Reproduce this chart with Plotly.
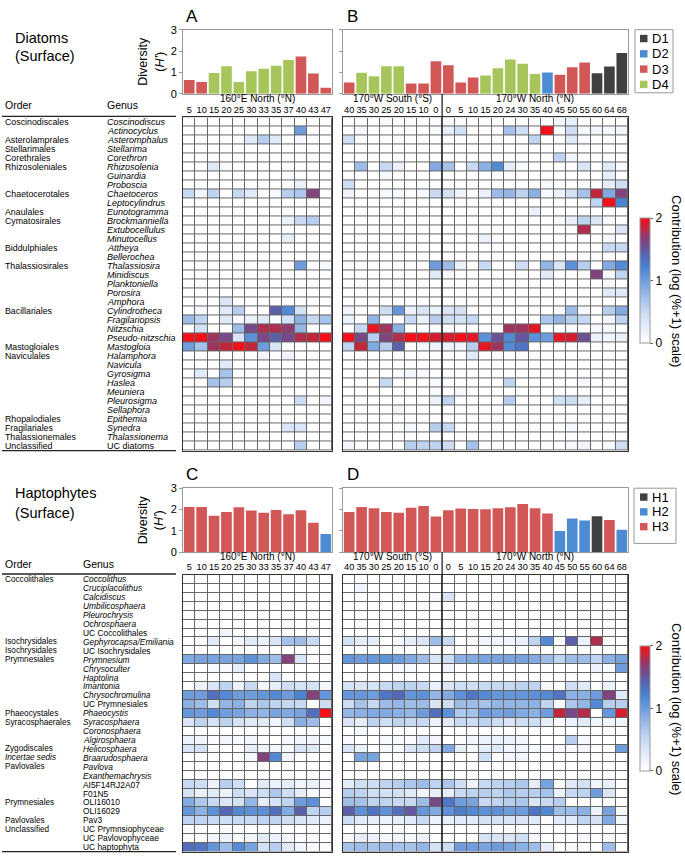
import plotly.graph_objects as go

W, H = 685, 862
FONT = "Liberation Sans, Arial, sans-serif"

# ---------------- data ----------------
stations_160E = ["5", "10", "15", "20", "25", "30", "33", "35", "37", "40", "43", "47"]
stations_170W = ["40", "35", "30", "25", "20", "15", "10", "0",
                 "0", "5", "10", "15", "20", "24", "30", "35", "40", "45", "50", "55", "60", "64", "68"]

diatom_div_A = [0.65, 0.55, 0.97, 1.29, 0.55, 1.05, 1.17, 1.31, 1.58, 1.74, 0.95, 0.28]
diatom_grp_A = ["D3", "D3", "D4", "D4", "D4", "D4", "D4", "D4", "D4", "D3", "D3", "D3"]
diatom_div_B = [0.53, 0.98, 0.82, 1.29, 1.29, 0.48, 0.48, 1.52, 1.34, 0.53, 0.76, 0.86,
                1.2, 1.6, 1.4, 0.93, 1.0, 0.89, 1.24, 1.46, 0.96, 1.28, 1.91]
diatom_grp_B = ["D3", "D4", "D4", "D4", "D4", "D3", "D3", "D3", "D3", "D3", "D3", "D4",
                "D4", "D4", "D4", "D4", "D2", "D3", "D3", "D3", "D1", "D1", "D1"]

hapto_div_C = [2.12, 2.12, 1.71, 1.89, 2.11, 1.95, 1.85, 1.98, 1.78, 1.97, 1.38, 0.85]
hapto_grp_C = ["H3"] * 11 + ["H2"]
hapto_div_D = [1.89, 2.12, 2.06, 1.89, 1.85, 2.08, 2.17, 1.68, 1.97, 2.05, 2.03, 2.02,
               2.06, 2.11, 2.26, 2.06, 1.82, 1.0, 1.58, 1.49, 1.69, 1.51, 1.05]
hapto_grp_D = ["H3"] * 17 + ["H2", "H2", "H2", "H1", "H3", "H2"]

diatom_orders = ["Coscinodiscales", "", "Asterolamprales", "Stellarimales", "Corethrales",
                 "Rhizosoleniales", "", "", "Chaetocerotales", "", "Anaulales", "Cymatosirales",
                 "", "", "Biddulphiales", "", "Thalassiosirales", "", "", "", "", "Bacillariales",
                 "", "", "", "Mastogloiales", "Naviculales", "", "", "", "", "", "",
                 "Rhopalodiales", "Fragilariales", "Thalassionemales", "Unclassified"]
diatom_genera = ["Coscinodiscus", "Actinocyclus", "Asteromphalus", "Stellarima", "Corethron",
                 "Rhizosolenia", "Guinardia", "Proboscia", "Chaetoceros", "Leptocylindrus",
                 "Eunotogramma", "Brockmanniella", "Extubocellulus", "Minutocellus", "Attheya",
                 "Bellerochea", "Thalassiosira", "Minidiscus", "Planktoniella", "Porosira",
                 "Amphora", "Cylindrotheca", "Fragilariopsis", "Nitzschia", "Pseudo-nitzschia",
                 "Mastogloia", "Halamphora", "Navicula", "Gyrosigma", "Haslea", "Meuniera",
                 "Pleurosigma", "Sellaphora", "Epithemia", "Synedra", "Thalassionema", "UC diatoms"]
diatom_italic = [True] * 36 + [False]

hapto_orders = ["Coccolithales", "", "", "", "", "", "", "Isochrysidales", "Isochrysidales",
                "Prymnesiales", "", "", "", "", "", "Phaeocystales", "Syracosphaerales", "", "",
                "Zygodiscales", "<i>Incertae sedis</i>", "Pavlovales", "", "", "", "Prymnesiales",
                "", "Pavlovales", "Unclassified", "", ""]
hapto_genera = ["Coccolithus", "Cruciplacolithus", "Calcidiscus", "Umbilicosphaera", "Pleurochrysis",
                "Ochrosphaera", "UC Coccolithales", "Gephyrocapsa/Emiliania", "UC Isochrysidales",
                "Prymnesium", "Chrysoculter", "Haptolina", "Imantonia", "Chrysochromulina",
                "UC Prymnesiales", "Phaeocystis", "Syracosphaera", "Coronosphaera", "Algirosphaera",
                "Helicosphaera", "Braarudosphaera", "Pavlova", "Exanthemachrysis", "AI5F14RJ2A07",
                "F01N5", "OLI16010", "OLI16029", "Pav3", "UC Prymnsiophyceae", "UC Pavlovophyceae",
                "UC haptophyta"]
hapto_italic = [True] * 6 + [False, True, False] + [True] * 5 + [False] + [True] * 8 + [False] * 8

heat_A = [
    [0, 0, 0, 0, 0, 0, 0, 0, 0, 0, 0, 0],
    [0, 0, 0, 0, 0, 0, 0, 0, 0, 1.0, 0, 0],
    [0, 0, 0, 0, 0, 0.3, 0.6, 0.3, 0, 0.1, 0, 0],
    [0, 0, 0, 0, 0, 0, 0, 0, 0, 0, 0, 0],
    [0, 0, 0, 0, 0, 0, 0, 0, 0, 0, 0.05, 0],
    [0, 0, 0.3, 0.1, 0, 0, 0, 0, 0, 0, 0, 0],
    [0, 0, 0, 0, 0, 0, 0, 0, 0.1, 0, 0, 0],
    [0, 0, 0, 0, 0, 0, 0, 0, 0, 0.2, 0, 0],
    [0.5, 0.15, 0.55, 0, 0.5, 0.3, 0, 0.1, 0.6, 0.65, 1.65, 0],
    [0, 0, 0, 0, 0, 0, 0, 0, 0, 0, 0, 0],
    [0, 0, 0, 0, 0, 0, 0, 0, 0.1, 0, 0, 0],
    [0, 0, 0, 0, 0, 0, 0, 0, 0.2, 0.5, 0.6, 0],
    [0, 0, 0, 0, 0, 0, 0, 0, 0, 0, 0, 0],
    [0, 0, 0, 0, 0, 0, 0, 0, 0.25, 0, 0, 0],
    [0, 0, 0, 0, 0, 0, 0, 0, 0, 0, 0, 0],
    [0, 0, 0, 0, 0, 0, 0, 0, 0, 0, 0, 0],
    [0, 0, 0, 0, 0, 0, 0, 0, 0, 1.0, 0, 0.1],
    [0, 0, 0, 0, 0, 0, 0, 0, 0, 0, 0, 0],
    [0, 0, 0, 0, 0, 0, 0, 0, 0, 0, 0, 0],
    [0, 0, 0, 0, 0, 0, 0, 0, 0, 0, 0, 0],
    [0, 0, 0, 0.35, 0, 0, 0, 0, 0, 0, 0, 0],
    [0, 0.1, 0, 0.3, 0.6, 0, 0, 1.45, 1.15, 0.4, 0, 0],
    [0.75, 0.55, 0, 0.3, 0.1, 0.2, 0.3, 0.1, 0.4, 0.85, 0.5, 0.7],
    [0, 0.4, 0, 0, 0.75, 1.6, 1.8, 1.8, 1.7, 0.8, 0, 0],
    [2.0, 2.0, 1.75, 1.6, 0.35, 1.1, 1.6, 1.45, 1.6, 1.8, 1.85, 2.0],
    [1.0, 0.7, 1.75, 1.85, 2.0, 1.85, 1.0, 0.35, 0, 0, 0, 0],
    [0, 0, 0, 0, 0, 0, 0.15, 0, 0.15, 0, 0, 0],
    [0, 0, 0, 0.3, 0, 0, 0, 0, 0, 0, 0, 0],
    [0.05, 0.3, 0, 0.7, 0, 0, 0, 0, 0, 0, 0, 0],
    [0, 0, 0.7, 0.6, 0, 0, 0, 0.05, 0, 0, 0, 0],
    [0, 0, 0, 0, 0, 0, 0, 0, 0, 0, 0, 0],
    [0, 0, 0, 0, 0, 0, 0, 0, 0, 0.45, 0, 0.15],
    [0, 0, 0, 0, 0, 0, 0, 0, 0, 0, 0, 0],
    [0, 0, 0, 0, 0, 0, 0, 0, 0, 0, 0, 0],
    [0, 0, 0, 0, 0, 0, 0, 0, 0.35, 0.35, 0, 0],
    [0, 0, 0, 0, 0, 0, 0, 0, 0, 0, 0, 0],
    [0, 0, 0, 0, 0, 0, 0, 0, 0, 0.6, 0, 0],
]

heat_B = [
    [0, 0, 0, 0.1, 0, 0, 0, 0, 0.1, 0, 0, 0, 0, 0, 0, 0, 0, 0.15, 0.25, 0, 0, 0, 0],
    [0, 0.1, 0, 0, 0, 0, 0, 0.1, 0.25, 0.4, 0, 0, 0, 0.7, 0.45, 0, 2.0, 0, 0.45, 0.1, 0.15, 0.1, 0.15],
    [0.45, 0, 0, 0, 0, 0, 0, 0, 0.05, 0, 0, 0, 0, 0, 0, 0.55, 0, 0, 0.3, 0.05, 0, 0, 0],
    [0, 0, 0, 0, 0, 0, 0, 0, 0, 0, 0, 0, 0, 0, 0, 0, 0, 0, 0, 0, 0, 0, 0],
    [0, 0, 0, 0, 0, 0, 0, 0, 0, 0, 0, 0, 0, 0, 0, 0, 0, 0.55, 0.15, 0, 0, 0, 0],
    [0, 0.75, 0, 0.5, 0.2, 0, 0, 0.9, 0.7, 0, 0.5, 0.85, 1.15, 0.25, 0.1, 0, 0, 0, 0, 0.35, 0, 0.3, 0.1],
    [0, 0, 0, 0.1, 0, 0, 0, 0, 0, 0, 0, 0, 0, 0.05, 0, 0, 0, 0, 0, 0, 0, 0.25, 0],
    [0.45, 0, 0, 0, 0, 0, 0, 0, 0, 0, 0, 0, 0, 0, 0, 0, 0.1, 0, 0, 0.1, 0, 0.25, 0.45],
    [0.15, 0, 0, 0.1, 0.1, 0, 0.1, 0.5, 0.4, 0.15, 0, 0.2, 0.75, 0.8, 0.55, 0.85, 0.1, 0.2, 0.4, 0.7, 1.85, 0.9, 1.65],
    [0, 0, 0, 0, 0, 0, 0, 0, 0, 0, 0, 0, 0, 0, 0, 0, 0, 0, 0, 0, 0.55, 2.0, 1.2],
    [0, 0, 0, 0, 0, 0, 0, 0, 0, 0, 0, 0, 0, 0, 0, 0.2, 0, 0, 0, 0, 0, 0, 0],
    [0, 0, 0, 0, 0, 0, 0, 0, 0, 0, 0, 0, 0, 0, 0, 0, 0, 0.1, 0.2, 0.55, 0.35, 0.1, 0],
    [0, 0, 0, 0, 0, 0, 0, 0, 0, 0, 0, 0, 0, 0, 0, 0, 0, 0, 0, 1.8, 0, 0, 0.35],
    [0, 0, 0, 0, 0, 0, 0, 0, 0, 0, 0, 0.2, 0, 0, 0, 0, 0, 0, 0, 0, 0, 0.1, 0],
    [0, 0, 0, 0, 0, 0, 0, 0, 0, 0, 0, 0, 0, 0, 0, 0, 0, 0, 0, 0, 0, 0.5, 0.5],
    [0, 0, 0, 0, 0, 0, 0, 0, 0, 0, 0, 0, 0, 0, 0, 0, 0, 0, 0, 0, 0, 0, 0],
    [0.1, 0, 0, 0, 0, 0, 0, 1.0, 0.75, 0.2, 0, 0.5, 0, 0, 0.45, 0, 0.8, 0.35, 1.1, 0.6, 0, 0.9, 1.15],
    [0, 0, 0, 0, 0, 0, 0, 0.3, 0.1, 0, 0, 0, 0, 0, 0, 0, 0.3, 0, 0, 0, 1.65, 0.1, 0.55],
    [0, 0, 0, 0, 0, 0, 0, 0, 0, 0, 0, 0, 0, 0, 0, 0, 0, 0, 0, 0, 0, 0.1, 0],
    [0, 0, 0, 0, 0, 0, 0, 0, 0, 0, 0, 0, 0, 0, 0, 0, 0, 0, 0, 0, 0, 0.3, 0.3],
    [0, 0, 0, 0, 0, 0, 0, 0, 0, 0, 0, 0, 0, 0, 0, 0, 0, 0, 0, 0, 0, 0, 0],
    [0.15, 0, 0, 0.45, 1.05, 0.2, 0.35, 0.2, 0.35, 0.4, 0, 0, 0, 0, 0, 0, 0, 0.1, 0.75, 0.1, 0, 0.6, 0.9],
    [0.2, 0, 0.8, 0.1, 0, 0.5, 0.2, 0.6, 0.45, 0.4, 0.5, 0, 0, 0, 0, 0, 0.65, 0.8, 0.6, 0.5, 0, 0.15, 0.55],
    [0, 0.5, 1.95, 1.75, 0.85, 0, 0, 0, 0, 0, 0, 0, 0, 1.75, 1.75, 1.95, 0, 0, 0, 0, 0.1, 0.1, 0],
    [2.0, 1.6, 0.6, 1.65, 1.8, 2.0, 2.0, 1.9, 1.9, 2.0, 1.95, 1.1, 1.55, 1.15, 1.5, 1.1, 1.0, 1.95, 1.9, 1.55, 0.2, 0.15, 0.2],
    [0.55, 1.85, 0.9, 0.6, 1.45, 0, 0.1, 0.2, 0.2, 0.15, 0.6, 1.95, 1.75, 1.15, 1.3, 0, 0, 0, 0, 0, 0, 0, 0],
    [0, 0, 0, 0, 0, 0, 0, 0, 0, 0, 0.3, 0, 0, 0, 0, 0, 0, 0, 0, 0, 0, 0, 0],
    [0, 0, 0, 0, 0, 0, 0, 0, 0, 0, 0, 0, 0, 0, 0, 0, 0, 0, 0, 0, 0, 0, 0],
    [0, 0, 0, 0, 0.1, 0.15, 0.1, 0, 0, 0, 0, 0, 0, 0, 0, 0, 0, 0, 0, 0, 0, 0, 0],
    [0, 0, 0, 0.5, 0, 0, 0, 0.1, 0.05, 0, 0, 0, 0, 0.55, 0, 0, 0, 0, 0, 0.1, 0, 0, 0],
    [0, 0, 0, 0, 0, 0, 0, 0.1, 0, 0.1, 0, 0, 0, 0, 0, 0, 0, 0, 0, 0, 0, 0, 0],
    [0, 0, 0, 0, 0, 0, 0, 0.2, 0.55, 0, 0, 0, 0, 0.6, 0, 0, 0, 0.4, 0.45, 0.25, 0, 0, 0],
    [0, 0, 0, 0, 0.15, 0, 0, 0, 0, 0, 0, 0, 0, 0, 0, 0, 0, 0, 0, 0, 0, 0, 0],
    [0, 0, 0, 0, 0, 0, 0, 0, 0, 0, 0, 0, 0.05, 0, 0, 0, 0, 0, 0, 0, 0, 0, 0],
    [0, 0, 0, 0, 0, 0.1, 0, 0.6, 0.5, 0, 0, 0, 0, 0, 0, 0, 0, 0, 0.1, 0, 0, 0, 0],
    [0, 0, 0, 0, 0, 0, 0, 0, 0, 0, 0, 0, 0, 0, 0, 0, 0, 0, 0, 0, 0, 0, 0],
    [0.15, 0, 0, 0, 0, 0.6, 0.55, 0.55, 0.45, 0, 0.7, 0, 0, 0, 0, 0, 0, 0, 0.1, 0.15, 0, 0.1, 0.45],
]

heat_C = [
    [0, 0, 0, 0, 0, 0, 0, 0, 0, 0, 0, 0],
    [0, 0, 0, 0, 0, 0, 0, 0, 0, 0, 0, 0],
    [0, 0, 0, 0, 0, 0, 0, 0, 0, 0, 0, 0],
    [0.05, 0, 0, 0, 0, 0, 0, 0.05, 0, 0, 0, 0],
    [0, 0, 0, 0, 0, 0, 0, 0, 0, 0, 0, 0],
    [0, 0, 0, 0, 0, 0, 0, 0, 0, 0, 0, 0],
    [0, 0, 0, 0.15, 0, 0, 0, 0, 0, 0, 0, 0],
    [0, 0.05, 0.3, 0, 0.15, 0.3, 0.2, 0.35, 0.7, 0.75, 0.5, 0],
    [0, 0, 0, 0, 0, 0, 0, 0, 0, 0, 0, 0],
    [0.9, 0.95, 0.95, 0.95, 0.95, 1.1, 0.9, 0.75, 1.65, 0.35, 0, 0.05],
    [0, 0, 0.1, 0.1, 0.25, 0, 0, 0, 0, 0, 0, 0.05],
    [0, 0, 0, 0, 0, 0, 0, 0.35, 0, 0, 0, 0],
    [0, 0.2, 0.35, 0.55, 0.2, 0.5, 0.15, 0.25, 0.45, 0.4, 0.4, 0.1],
    [1.0, 1.0, 1.35, 1.15, 1.0, 1.0, 1.05, 1.15, 1.0, 1.2, 1.65, 1.05],
    [0.85, 0.75, 0.45, 0.8, 0.85, 0.55, 0.65, 0.55, 0.5, 0.5, 0.05, 0.45],
    [1.05, 1.0, 1.15, 1.0, 0.95, 0.85, 0.8, 0.95, 0.9, 0.95, 1.35, 2.0],
    [0.35, 0.55, 0.4, 0.55, 0.4, 0.3, 0.3, 0.15, 0.45, 0.85, 0.75, 0.05],
    [0, 0, 0, 0, 0, 0, 0, 0, 0, 0, 0, 0],
    [0.2, 0.15, 0.05, 0.15, 0.1, 0.15, 0.05, 0, 0.1, 0.15, 0.15, 0.1],
    [0.35, 0.4, 0.05, 0, 0, 0.25, 0.15, 0.15, 0.1, 0.35, 0.3, 0.05],
    [0, 0, 0, 0, 0, 0.1, 1.65, 1.15, 0.15, 0, 0, 0],
    [0, 0, 0, 0, 0, 0, 0, 0, 0, 0, 0, 0],
    [0, 0, 0, 0, 0, 0, 0, 0, 0, 0, 0, 0],
    [0.5, 0.45, 0.2, 0.6, 0.45, 0, 0.3, 0.2, 0.25, 0.15, 0.2, 0.1],
    [0.4, 0.2, 0.3, 0.2, 0.45, 0.35, 0.45, 0.65, 0.45, 0.25, 0.1, 0.05],
    [0.9, 0.65, 0.5, 0.35, 0.4, 0.8, 0.25, 0.4, 0.55, 1.0, 1.1, 0],
    [1.05, 0.85, 1.1, 1.4, 1.15, 1.1, 1.1, 1.35, 0.9, 1.45, 0.55, 0.6],
    [0.55, 0.55, 0.5, 0.45, 0.5, 0.5, 0.55, 0.55, 0.45, 0.35, 0.3, 0.2],
    [0.05, 0, 0, 0.05, 0, 0, 0, 0, 0, 0, 0, 0],
    [0.1, 0.05, 0.15, 0.2, 0.05, 0.15, 0.3, 0.2, 0.1, 0.05, 0.05, 0],
    [1.35, 1.3, 1.05, 0.75, 1.15, 0.95, 0.4, 0.6, 0.3, 0.15, 0.1, 0.05],
]

heat_D = [
    [0, 0, 0, 0, 0, 0, 0, 0, 0, 0, 0, 0, 0, 0, 0, 0, 0, 0, 0, 0, 0, 0, 0],
    [0, 0.15, 0, 0, 0, 0, 0, 0, 0, 0, 0, 0, 0, 0, 0, 0, 0, 0, 0, 0, 0, 0, 0],
    [0, 0, 0, 0, 0, 0, 0, 0.1, 0.35, 0, 0, 0, 0, 0, 0, 0, 0, 0, 0, 0, 0, 0, 0],
    [0, 0, 0, 0, 0, 0, 0, 0.05, 0, 0, 0, 0, 0, 0, 0, 0, 0, 0, 0, 0, 0, 0, 0],
    [0, 0, 0, 0, 0, 0, 0, 0, 0, 0, 0, 0, 0, 0, 0, 0, 0, 0, 0, 0, 0, 0, 0],
    [0, 0, 0, 0, 0, 0, 0, 0, 0, 0, 0, 0, 0, 0, 0, 0, 0, 0, 0, 0, 0, 0, 0],
    [0, 0, 0, 0, 0, 0, 0, 0, 0, 0, 0, 0, 0, 0, 0, 0, 0, 0, 0, 0, 0, 0, 0],
    [0.4, 0.25, 0.25, 0, 0.1, 0.25, 0.35, 0.75, 0.5, 0, 0.1, 0.15, 0.15, 0.15, 0.2, 0.55, 1.15, 0, 1.45, 0.2, 1.8, 0, 0],
    [0, 0, 0, 0, 0, 0, 0, 0, 0, 0, 0, 0, 0, 0, 0, 0, 0, 0, 0, 0, 0, 0, 0],
    [1.05, 1.0, 1.05, 1.1, 1.0, 0.9, 0.75, 0.35, 0.45, 0.85, 0.9, 0.95, 0.95, 0.95, 0.95, 0.9, 0.75, 0.55, 0.75, 0.75, 0.55, 0.85, 0.95],
    [0, 0, 0, 0, 0.1, 0.1, 0, 0, 0.15, 0, 0, 0, 0, 0, 0, 0, 0, 0, 0, 0, 0.2, 0.1, 1.0],
    [0, 0, 0, 0, 0, 0, 0, 0, 0, 0, 0, 0, 0, 0, 0, 0, 0, 0, 0, 0, 0, 0, 0],
    [0.4, 0.35, 0.4, 0.5, 0.55, 0.55, 0.5, 0.2, 0.35, 0.45, 0.45, 0.5, 0.5, 0.5, 0.55, 0.55, 0.1, 0, 0.45, 0.3, 0, 0.2, 0],
    [1.05, 1.05, 1.0, 1.3, 1.4, 1.05, 1.1, 0.8, 0.9, 1.1, 1.3, 1.15, 1.05, 1.05, 1.05, 1.1, 1.15, 1.3, 0.85, 0.85, 1.0, 1.65, 0.3],
    [0.45, 0.7, 0.5, 0.75, 0.8, 0.75, 0.75, 0.35, 0.45, 0.75, 0.75, 0.7, 0.8, 0.8, 0.8, 0.85, 0.55, 0.1, 0.65, 0.8, 1.15, 0.6, 0.6],
    [0.8, 0.85, 0.9, 0.9, 0.85, 0.8, 1.0, 1.35, 1.1, 0.65, 0.7, 1.0, 0.95, 1.0, 0.9, 0.85, 1.0, 1.85, 1.6, 1.8, 0, 1.05, 1.9],
    [0.35, 0.25, 0.55, 0.45, 0.55, 0.5, 0.5, 0.2, 0.3, 0.5, 0.45, 0.55, 0.45, 0.35, 0.45, 0.45, 0.25, 0.05, 0.2, 0.3, 0.15, 0.15, 0.15],
    [0, 0.1, 0, 0, 0, 0, 0, 0, 0, 0, 0, 0, 0, 0, 0, 0, 0, 0, 0, 0, 0, 0, 0],
    [0.1, 0, 0, 0.1, 0.1, 0.05, 0.3, 0.15, 0, 0.05, 0.15, 0.2, 0.2, 0.2, 0.15, 0, 0, 0, 0.6, 0.1, 0, 0, 0],
    [0.35, 0.2, 0, 0.1, 0.1, 0.35, 0.45, 0.55, 0.9, 0.25, 0.1, 0.25, 0.3, 0.15, 0.15, 0.1, 0.05, 0.1, 0.05, 0.15, 0, 0, 1.0],
    [0, 0.95, 0.95, 0, 0, 0, 0, 0, 0, 0, 0, 0.45, 0, 0.15, 0.15, 0, 0, 0, 0, 0, 0, 0, 0],
    [0, 0, 0, 0, 0, 0, 0, 0, 0, 0, 0, 0, 0, 0, 0, 0, 0, 0, 0, 0, 0, 0, 0],
    [0, 0, 0, 0, 0, 0, 0, 0, 0, 0, 0, 0, 0, 0, 0, 0, 0, 0, 0, 0, 0, 0, 0],
    [0.25, 0.45, 0.45, 0.55, 0.6, 0.65, 0.75, 0.55, 0.65, 0.45, 0.15, 0.5, 0.55, 0.6, 0.65, 0.25, 0.95, 0, 0.3, 0.4, 0.15, 0.2, 0],
    [0.6, 0.55, 0.45, 0.4, 0.4, 0.3, 0.15, 0.25, 0.25, 0.5, 0.55, 0.6, 0.55, 0.65, 0.6, 0.6, 0.7, 0.2, 0.5, 0.55, 1.0, 0.35, 0],
    [0.75, 0.7, 0.55, 0.55, 0.5, 0.5, 0.75, 1.6, 1.3, 1.0, 0.95, 0.5, 0.55, 0.6, 0.65, 0.35, 0.5, 0.6, 0, 0, 0, 0.05, 0],
    [1.45, 1.1, 1.3, 1.1, 1.35, 1.5, 1.05, 0.9, 1.1, 1.25, 1.15, 1.1, 1.1, 1.0, 1.0, 1.3, 1.15, 0.75, 0.75, 0.85, 0.2, 0.95, 0.1],
    [0.45, 0.3, 0.25, 0.2, 0.25, 0.3, 0.5, 0.2, 0.25, 0.3, 0.3, 0.4, 0.4, 0.35, 0.35, 0.3, 0.05, 0.3, 0.3, 0.55, 0.4, 0.9, 0.15],
    [0, 0, 0, 0, 0.05, 0, 0, 0, 0, 0, 0, 0, 0, 0.05, 0, 0, 0, 0, 0, 0, 0, 0, 0],
    [0.1, 0.25, 0.2, 0.1, 0.15, 0.1, 0.2, 0, 0, 0, 0, 0.4, 0.35, 0.35, 0.45, 0.1, 0, 0, 0, 0.1, 0, 0.1, 0],
    [0.7, 0.75, 0.7, 0.75, 0.7, 0.7, 0.8, 0.4, 0.45, 1.0, 1.0, 0.95, 1.0, 0.95, 0.85, 0.75, 0.25, 0, 0.1, 0.05, 0, 0.75, 0],
]

group_colors = {"D1": "#404040", "D2": "#4d8cd2", "D3": "#d25757", "D4": "#a6c65c",
                "H1": "#404040", "H2": "#4d8cd2", "H3": "#d25757"}
diatom_groups = ["D1", "D2", "D3", "D4"]
hapto_groups = ["H1", "H2", "H3"]

contrib_scale = [
    [0.0, "#ffffff"], [0.08, "#f1f5fc"], [0.25, "#c8daf3"], [0.4, "#94b6e6"],
    [0.5, "#6e9cdd"], [0.6, "#4a83d2"], [0.7, "#5467b6"], [0.78, "#6f4f92"],
    [0.86, "#93396a"], [0.93, "#c72437"], [1.0, "#f5101a"],
]

# ---------------- layout helpers ----------------
def px(x):
    return x / W

def py(y):
    return 1 - y / H

X_LEFT = (183, 332)
X_RIGHT = (343, 628)
BAR_D = (24, 89)
HEAT_D = (113, 451)
BAR_H = (489, 554)
HEAT_H = (577, 857.5)

fig = go.Figure()
layout = dict(width=W, height=H, margin=dict(l=0, r=0, t=0, b=0),
              paper_bgcolor="white", plot_bgcolor="white", barmode="overlay",
              bargap=0.14, showlegend=False, font=dict(family=FONT, color="black"))

def xdom(xr):
    return [px(xr[0]), px(xr[1])]

def ydom(yr):
    return [py(yr[1]), py(yr[0])]

def bar_axes(i, xr, yr, n, labels):
    layout[f"xaxis{i}"] = dict(domain=xdom(xr), range=[-0.5, n - 0.5], anchor=f"y{i}",
                               showticklabels=False, ticks="", showgrid=False, zeroline=False,
                               showline=True, mirror=True, linecolor="#999999", linewidth=1)
    layout[f"yaxis{i}"] = dict(domain=ydom(yr), range=[0, 3], anchor=f"x{i}",
                               tickvals=[0, 1, 2, 3], showticklabels=labels, ticks="outside",
                               ticklen=3, tickcolor="#999999", tickfont=dict(size=11),
                               showgrid=False, zeroline=False, showline=True, mirror=True,
                               linecolor="#999999", linewidth=1)

def heat_axes(i, xr, yr, n, nrows, labels):
    layout[f"xaxis{i}"] = dict(domain=xdom(xr), range=[-0.5, n - 0.5], anchor=f"y{i}",
                               side="top", tickvals=list(range(n)), ticktext=labels, ticks="",
                               tickangle=0, tickfont=dict(size=9.2), showgrid=False, zeroline=False,
                               showline=True, mirror=True, linecolor="#333333", linewidth=1)
    layout[f"yaxis{i}"] = dict(domain=ydom(yr), range=[nrows - 0.5, -0.5], anchor=f"x{i}",
                               showticklabels=False, ticks="", showgrid=False, zeroline=False,
                               showline=True, mirror=True, linecolor="#333333", linewidth=1)

bar_axes("", X_LEFT, BAR_D, len(stations_160E), True)
bar_axes(2, X_RIGHT, BAR_D, len(stations_170W), False)
heat_axes(3, X_LEFT, HEAT_D, len(stations_160E), len(diatom_genera), stations_160E)
heat_axes(4, X_RIGHT, HEAT_D, len(stations_170W), len(diatom_genera), stations_170W)
bar_axes(5, X_LEFT, BAR_H, len(stations_160E), True)
bar_axes(6, X_RIGHT, BAR_H, len(stations_170W), False)
heat_axes(7, X_LEFT, HEAT_H, len(stations_160E), len(hapto_genera), stations_160E)
heat_axes(8, X_RIGHT, HEAT_H, len(stations_170W), len(hapto_genera), stations_170W)
layout["xaxis"]["anchor"] = "y"
layout["yaxis"]["anchor"] = "x"

def add_bars(div, grp, groups, xa, ya):
    for g in groups:
        vals = [v if gg == g else None for v, gg in zip(div, grp)]
        if all(v is None for v in vals):
            continue
        fig.add_trace(go.Bar(x=list(range(len(div))), y=vals,
                             marker=dict(color=group_colors[g], line=dict(width=0)),
                             name=g, xaxis=xa, yaxis=ya, showlegend=False))

add_bars(diatom_div_A, diatom_grp_A, diatom_groups, "x", "y")
add_bars(diatom_div_B, diatom_grp_B, diatom_groups, "x2", "y2")
add_bars(hapto_div_C, hapto_grp_C, hapto_groups, "x5", "y5")
add_bars(hapto_div_D, hapto_grp_D, hapto_groups, "x6", "y6")

def add_heat(z, xa, ya, colorbar_top=None):
    nrows, ncols = len(z), len(z[0])
    fig.add_trace(go.Heatmap(z=[[0] * ncols for _ in range(nrows)], x=list(range(ncols)), y=list(range(nrows)),
                             colorscale=[[0, "#666666"], [1, "#666666"]], showscale=False,
                             hoverinfo="skip", xaxis=xa, yaxis=ya))
    if colorbar_top is not None:
        kw = dict(showscale=True, colorbar=dict(
            x=px(640), xanchor="left", y=py(colorbar_top), yanchor="top",
            len=125, lenmode="pixels", thickness=10, thicknessmode="pixels",
            xpad=0, ypad=0, outlinewidth=1, outlinecolor="#999999",
            tickvals=[0, 1, 2], ticks="outside", ticklen=3, tickcolor="#666666",
            tickfont=dict(size=12, family=FONT)))
    else:
        kw = dict(showscale=False)
    fig.add_trace(go.Heatmap(z=z, x=list(range(ncols)), y=list(range(nrows)),
                             colorscale=contrib_scale, zmin=0, zmax=2, xgap=1, ygap=1,
                             xaxis=xa, yaxis=ya, **kw))

add_heat(heat_A, "x3", "y3")
add_heat(heat_B, "x4", "y4", colorbar_top=215)
add_heat(heat_C, "x7", "y7")
add_heat(heat_D, "x8", "y8", colorbar_top=649)

# ---------------- annotations ----------------
ann = []
shapes = []

def text(x, y, s, size, xanchor="left", yanchor="middle", xref="paper", yref="paper", angle=0, align="left"):
    ann.append(dict(x=x, y=y, xref=xref, yref=yref, text=s, showarrow=False, xanchor=xanchor,
                    yanchor=yanchor, textangle=angle, align=align,
                    font=dict(size=size, family=FONT, color="black")))

def panel_block(title, top_letter_y, letters, bar_rng, heat_rng, genus_x, orders, genera, italic,
                hx, hy, order_hdr_y, groups, legend_box, legend_items_y, cb_center, row_font):
    text(px(13), py(title[1]), title[0], 14.5)
    text(px(13), py(title[2]), "(Surface)", 14.5)
    text(px(X_LEFT[0] + 1), py(top_letter_y), letters[0], 17)
    text(px(X_RIGHT[0] + 2), py(top_letter_y), letters[1], 17)
    text(px(151), py((bar_rng[0] + bar_rng[1]) / 2), "Diversity<br>(<i>H'</i>)", 12.5,
         xanchor="center", angle=-90, align="center")
    text((len(stations_160E) - 1) / 2, py(bar_rng[1] + 4.5), "160°E North (°N)", 10, xanchor="center",
         xref=hx[0])
    text(3.5, py(bar_rng[1] + 4.5), "170°W South (°S)", 10, xanchor="center", xref=hx[1])
    text(15.0, py(bar_rng[1] + 4.5), "170°W North (°N)", 10, xanchor="center", xref=hx[1])
    text(px(3), py(order_hdr_y), "Order", 10.5)
    text(px(genus_x), py(order_hdr_y), "Genus", 10.5)
    shapes.append(dict(type="line", xref="paper", yref="paper", x0=px(2), x1=px(176),
                       y0=py(heat_rng[0] - 1), y1=py(heat_rng[0] - 1), line=dict(color="#222222", width=1.3)))
    shapes.append(dict(type="line", xref="paper", yref="paper", x0=px(2), x1=px(176),
                       y0=py(heat_rng[1]), y1=py(heat_rng[1]), line=dict(color="#222222", width=1.3)))
    for i, (o, g, it) in enumerate(zip(orders, genera, italic)):
        if o:
            text(px(3), i, o, row_font - 0.2, yref=hy)
        text(px(genus_x), i, f"<i>{g}</i>" if it else g, row_font, yref=hy)
    shapes.append(dict(type="line", xref=hx[1], yref="paper", x0=7.5, x1=7.5,
                       y0=py(heat_rng[1]), y1=py(bar_rng[1]), line=dict(color="#111111", width=1.2)))
    shapes.append(dict(type="rect", xref="paper", yref="paper", x0=px(legend_box[0]), x1=px(legend_box[1]),
                       y0=py(legend_box[3]), y1=py(legend_box[2]), line=dict(color="#999999", width=1),
                       fillcolor="white"))
    for g, yy in zip(groups, legend_items_y):
        shapes.append(dict(type="rect", xref="paper", yref="paper", x0=px(640), x1=px(647.5),
                           y0=py(yy + 3.75), y1=py(yy - 3.75), line=dict(width=0),
                           fillcolor=group_colors[g]))
        text(px(650), py(yy), g, 13)
    text(px(677), py(cb_center), "Contribution (log (%+1) scale)", 13, xanchor="center", angle=90)

panel_block(("Diatoms", 32, 51), 11, ("A", "B"), BAR_D, HEAT_D, 105, diatom_orders, diatom_genera,
            diatom_italic, ("x3", "x4"), "y3", 100, diatom_groups, (635, 673, 24, 88),
            [33, 48.5, 64, 79.5], 279, 9)
panel_block(("Haptophytes", 494, 514), 475, ("C", "D"), BAR_H, HEAT_H, 81, hapto_orders, hapto_genera,
            hapto_italic, ("x7", "x8"), "y7", 566, hapto_groups, (634, 676, 489, 545),
            [498, 513, 528], 713, 8.4)

layout["annotations"] = ann
layout["shapes"] = shapes
fig.update_layout(**layout)
fig.write_html("out.html", config={"displayModeBar": False},
               post_script="document.body.style.margin='0px';")
